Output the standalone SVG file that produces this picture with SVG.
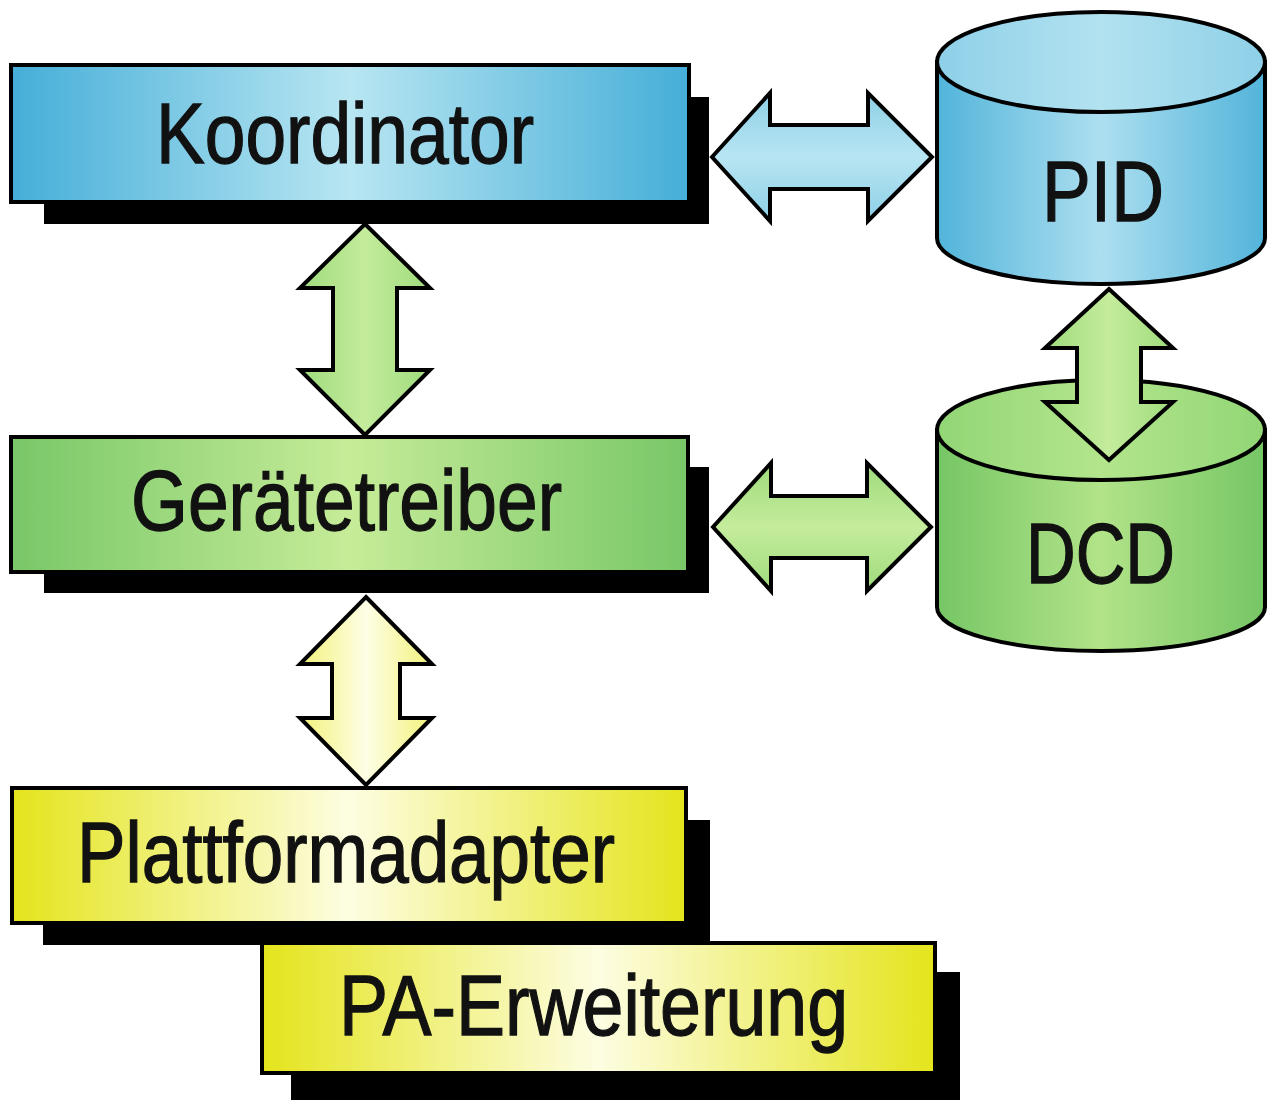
<svg xmlns="http://www.w3.org/2000/svg" width="1280" height="1107" viewBox="0 0 1280 1107">
<defs>
<style>
.box{stroke:#000;stroke-width:4}
.sh{fill:#000}
.lbl{font-family:"Liberation Sans",Arial,sans-serif;font-size:86px;fill:#111;stroke:#111;stroke-width:1.3}
.cyl{stroke:#000;stroke-width:4}
.arr{stroke:#000;stroke-width:4;stroke-linejoin:miter}
</style>
<linearGradient id="gBlue" x1="0" y1="0" x2="1" y2="0">
<stop offset="0" stop-color="#45aed8"/><stop offset="0.5" stop-color="#b8e6f2"/><stop offset="1" stop-color="#45aed8"/>
</linearGradient>
<linearGradient id="gGreen" x1="0" y1="0" x2="1" y2="0">
<stop offset="0" stop-color="#78c768"/><stop offset="0.5" stop-color="#c6ec98"/><stop offset="1" stop-color="#78c768"/>
</linearGradient>
<linearGradient id="gYellow" x1="0" y1="0" x2="1" y2="0">
<stop offset="0" stop-color="#e4e41c"/><stop offset="0.5" stop-color="#fdfde2"/><stop offset="1" stop-color="#e4e41c"/>
</linearGradient>
<linearGradient id="cBlue" x1="0" y1="0" x2="1" y2="0">
<stop offset="0" stop-color="#52b4da"/><stop offset="0.5" stop-color="#addff0"/><stop offset="1" stop-color="#52b4da"/>
</linearGradient>
<linearGradient id="cBlueTop" x1="0" y1="0" x2="1" y2="0">
<stop offset="0" stop-color="#8ed0e8"/><stop offset="0.5" stop-color="#b2e2f0"/><stop offset="1" stop-color="#8ed0e8"/>
</linearGradient>
<linearGradient id="cGreen" x1="0" y1="0" x2="1" y2="0">
<stop offset="0" stop-color="#76c665"/><stop offset="0.5" stop-color="#b2e389"/><stop offset="1" stop-color="#76c665"/>
</linearGradient>
<linearGradient id="cGreenTop" x1="0" y1="0" x2="1" y2="0">
<stop offset="0" stop-color="#92d676"/><stop offset="0.5" stop-color="#b3e58c"/><stop offset="1" stop-color="#92d676"/>
</linearGradient>
<linearGradient id="aBlueH" x1="0" y1="0" x2="0" y2="1">
<stop offset="0" stop-color="#8dd0e7"/><stop offset="0.5" stop-color="#b8e5f2"/><stop offset="1" stop-color="#8dd0e7"/>
</linearGradient>
<linearGradient id="aGreenH" x1="0" y1="0" x2="0" y2="1">
<stop offset="0" stop-color="#9fdb7c"/><stop offset="0.5" stop-color="#c4ec9c"/><stop offset="1" stop-color="#9fdb7c"/>
</linearGradient>
<linearGradient id="aGreenV" x1="0" y1="0" x2="1" y2="0">
<stop offset="0" stop-color="#9fdb7c"/><stop offset="0.5" stop-color="#c4ec9c"/><stop offset="1" stop-color="#9fdb7c"/>
</linearGradient>
<linearGradient id="aYellowV" x1="0" y1="0" x2="1" y2="0">
<stop offset="0" stop-color="#f2f27a"/><stop offset="0.5" stop-color="#fefee6"/><stop offset="1" stop-color="#f2f27a"/>
</linearGradient>
</defs>
<rect width="1280" height="1107" fill="#fff"/>

<g id="koordinator">
<rect class="sh" x="44" y="97" width="665" height="127"/>
<rect class="box" x="11" y="65" width="678" height="137" fill="url(#gBlue)"/>
<text class="lbl" x="156" y="163" textLength="378" lengthAdjust="spacingAndGlyphs">Koordinator</text>
</g>

<g id="geraetetreiber">
<rect class="sh" x="44" y="467" width="665" height="126"/>
<rect class="box" x="11" y="437" width="677" height="135" fill="url(#gGreen)"/>
<text class="lbl" x="131" y="530" textLength="431" lengthAdjust="spacingAndGlyphs">Gerätetreiber</text>
</g>

<g id="plattformadapter">
<rect class="sh" x="43" y="820" width="667" height="125"/>
<rect class="box" x="12" y="788" width="674" height="135" fill="url(#gYellow)"/>
<text class="lbl" x="77" y="882" textLength="538" lengthAdjust="spacingAndGlyphs">Plattformadapter</text>
</g>

<g id="pa-erweiterung">
<rect class="sh" x="291" y="972" width="669" height="128"/>
<rect class="box" x="262" y="943" width="673" height="130" fill="url(#gYellow)"/>
<text class="lbl" x="339" y="1035" textLength="509" lengthAdjust="spacingAndGlyphs">PA-Erweiterung</text>
</g>

<g id="pid">
<path class="cyl" d="M937,62 V238 A164,46 0 0 0 1265,238 V62 Z" fill="url(#cBlue)"/>
<ellipse class="cyl" cx="1101" cy="62" rx="164" ry="50" fill="url(#cBlueTop)"/>
<text class="lbl" x="1042" y="221" font-size="88" textLength="122" lengthAdjust="spacingAndGlyphs">PID</text>
</g>

<g id="dcd">
<path class="cyl" d="M937,430 V607 A164,44 0 0 0 1265,607 V430 Z" fill="url(#cGreen)"/>
<ellipse class="cyl" cx="1101" cy="430" rx="164" ry="50" fill="url(#cGreenTop)"/>
<text class="lbl" x="1026" y="583" textLength="149" lengthAdjust="spacingAndGlyphs">DCD</text>
</g>

<g id="connectors">
<path class="arr" fill="url(#aBlueH)" d="M712,157 L770,93 V125 H868 V93 L932,157 L868,221 V189 H770 V221 Z"/>
<path class="arr" fill="url(#aGreenH)" d="M713,527 L771,463 V496 H867 V463 L931,527 L867,591 V558 H771 V591 Z"/>
<path class="arr" fill="url(#aGreenV)" d="M365,224 L430,288 H397 V370 H430 L365,435 L300,370 H333 V288 H300 Z"/>
<path class="arr" fill="url(#aYellowV)" d="M366,597 L432,664 H400 V718 H432 L366,785 L300,718 H332 V664 H300 Z"/>
<path class="arr" fill="url(#aGreenV)" d="M1109,289 L1173,348 H1141 V402 H1173 L1109,460 L1045,402 H1077 V348 H1045 Z"/>
</g>
</svg>
